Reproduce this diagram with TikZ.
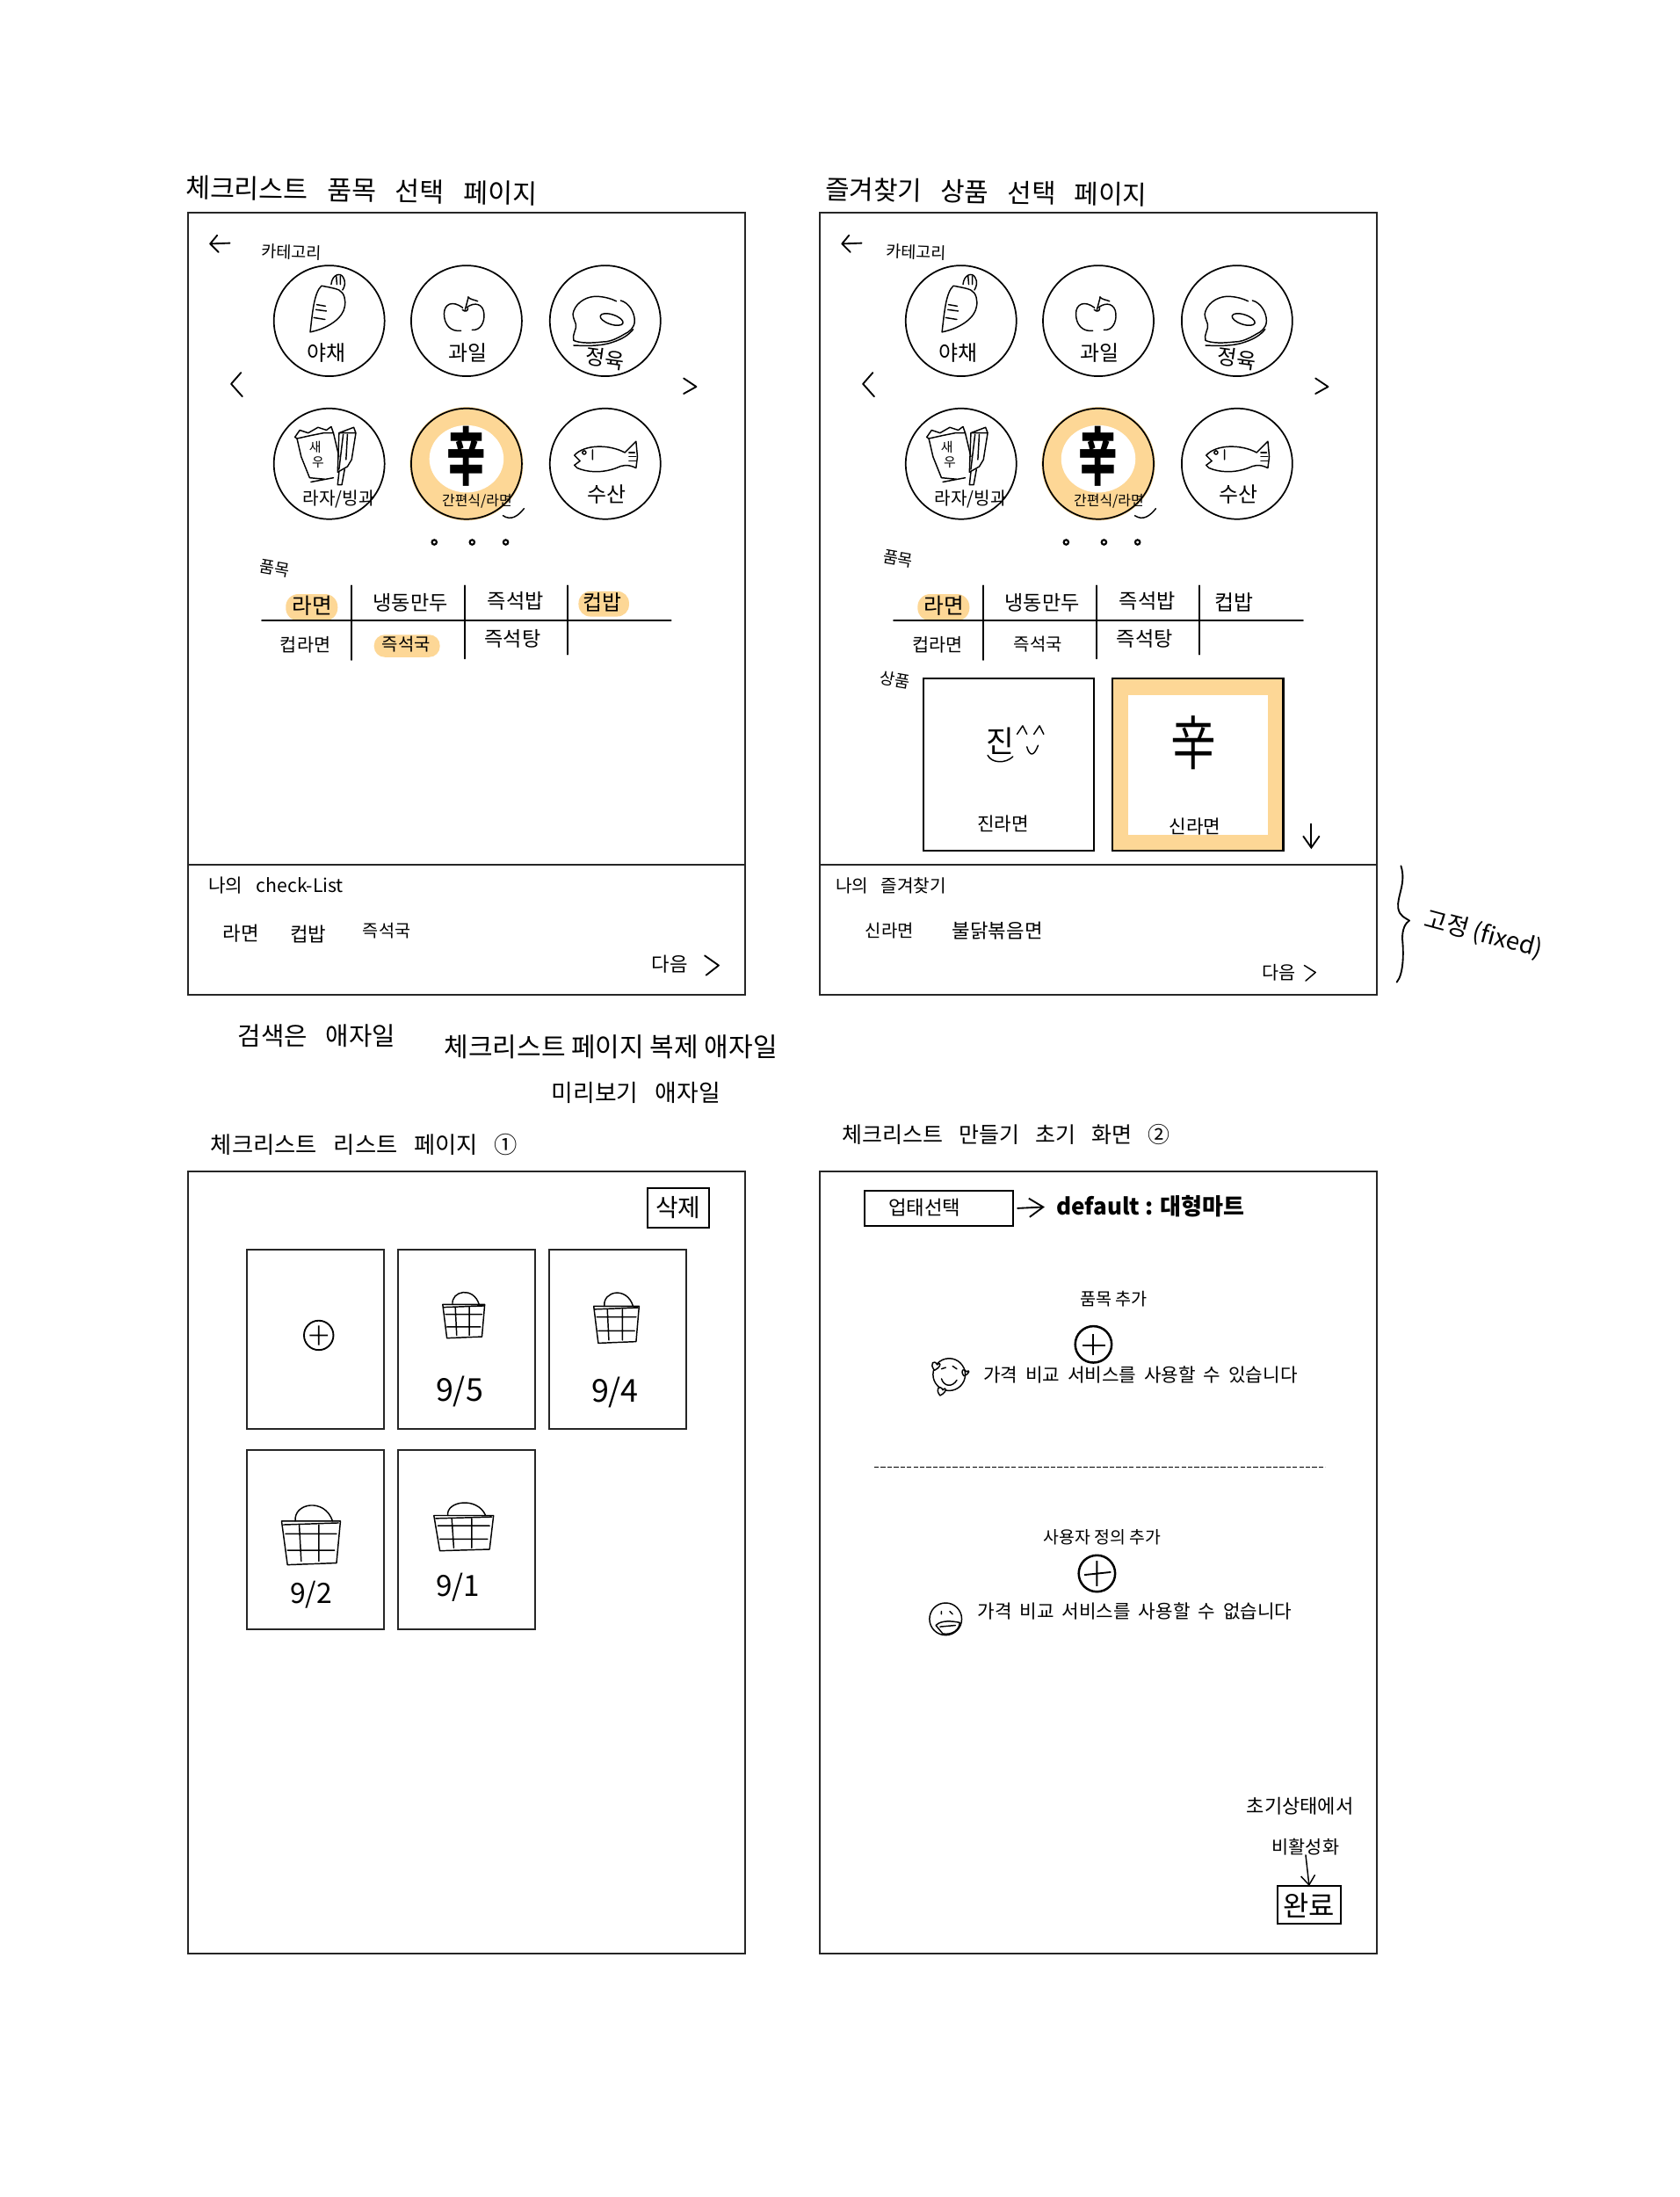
\documentclass[tikz,border=0pt]{standalone}
\usepackage{fontspec}
\setmainfont{Noto Sans CJK KR}
\newfontfamily\kr{Noto Sans CJK KR}
\usetikzlibrary{arrows.meta}
\definecolor{hl}{HTML}{FDD796}
\newcommand{\wsp}{\hspace{0.72em}}
\newcommand{\wsm}{\hspace{0.42em}}
\tikzset{
  every node/.append style={outer sep=0pt},
  fs/.style={font=\kr\fontsize{#1pt}{#1pt}\selectfont},
  lb/.style={inner sep=0pt,text=black},
  frameline/.style={line width=0.75pt,draw=black!85},
  sketch/.style={line width=0.55pt,line cap=round,line join=round},
  thickline/.style={line width=0.75pt,line cap=round},
  card/.style={draw=black!85,line width=0.7pt,minimum width=58.8pt,minimum height=76.8pt,anchor=north west,inner sep=0pt},
  catc/.style={line width=0.65pt,draw=black},
  carrot/.pic={
    \draw[sketch] (-13.6,8) .. controls (-12,-5) and (-11,-20) .. (-5.5,-25) .. controls (0,-24) and (5,-23) .. (7,-22) .. controls (11,-20) and (12,-14) .. (11,-10) .. controls (10,-3) and (1,5) .. (-13.6,8) -- cycle;
    \draw[sketch] (1.4,-26) .. controls (2,-33) and (8,-35) .. (10,-31) .. controls (12,-28) and (11,-24) .. (9.5,-22);
    \draw[sketch] (5,-32) -- (5.5,-26) (8,-32) -- (8,-26);
    \draw[sketch] (-9,-11.6) -- (-2.7,-10.5) (-9.5,-8) -- (-2,-7) (-11,-2.3) -- (-3,-1);
  },
  apple/.pic={
    \draw[sketch] (-2.7,-9.3) .. controls (-10,-15) and (-16,-12) .. (-16,-5) .. controls (-16,3) and (-11,8) .. (-4,7);
    \draw[sketch] (0,-9.5) .. controls (6,-14) and (12,-12) .. (12.5,-5) .. controls (13,1) and (10,7) .. (4,6.5);
    \draw[sketch] (-3,-8) .. controls (-1,-6) and (1,-7) .. (1,-9) (-1,-8) -- (1.4,-17);
    \draw[sketch] (1,-17) .. controls (3,-15) and (6,-15) .. (8,-14);
  },
  meat/.pic={
    \draw[sketch] (-22.5,-7) .. controls (-20,-14) and (-12,-18) .. (-5,-17.4) .. controls (0,-17) and (4,-16) .. (8,-14) (11,-14.5) .. controls (17,-13) and (21,-6) .. (21,0) .. controls (21,5) and (17,8) .. (14,9.3) .. controls (8,13) and (3,15) .. (-2,15) .. controls (-10,16) and (-18,16) .. (-22.5,14) .. controls (-24,10) and (-20,6) .. (-21,2.3) .. controls (-22,-1) and (-24,-4) .. (-22.5,-7);
    \draw[sketch] (-22.5,17.5) .. controls (-12,18) and (-2,18) .. (6,15) .. controls (12,13) and (17,10) .. (20,6);
    \draw[sketch,rotate around={-18:(4.6,-1)}] (4.6,-1) ellipse (8.5 and 3.5);
  },
  snack/.pic={
    \draw[sketch] (-24.5,-19) -- (-21,-24) -- (-15,-22) -- (-8,-26) -- (-2,-24) -- (1.4,-26.5) -- (3,-22) -- (-4,-22) -- (-14,-20) -- (-23,-18) -- cycle;
    \draw[sketch] (-23,-18) -- (-20,-5) -- (-14,10) -- (-3,11) (-13,13) -- (3,10) (3,-22) -- (7,-5);
    \node[lb,fs=5.6] (sae) at (-10,-12) {새};
    \node[lb,fs=5.6] (woo) at (-8,-1) {우};
    \draw[sketch] (7,-22) -- (17.5,-26) -- (19,-22) -- (16,-3) -- (13,2) -- (6,6) -- cycle (7,-22) -- (19,-22);
    \draw[sketch] (10,-21) -- (7,4) (13,-21) -- (12,-3);
    \draw[sketch] (7,6) -- (6,15) -- (9,15) -- (11,4);
  },
  fish/.pic={
    \draw[sketch] (-22,-6) .. controls (-15,-14) and (3,-14) .. (14,-8) -- (22,-16) -- (23,-5) -- (22,3) .. controls (16,0) and (12,1) .. (8,3) .. controls (-3,7) and (-13,6) .. (-20,3) -- (-22,1) -- (-18,-2) -- (-22,-6) -- cycle;
    \draw[sketch] (-15,-8) circle (1.3) (-9,-10) -- (-9,-3);
    \draw[sketch] (17,-8) -- (21,-8) (17,-5) -- (22,-5) (17,-2) -- (22,-2);
  },
  basket/.pic={
    \draw[sketch] (-15,-8) -- (15,-8) (-14,-6) -- (14,-7) (-15,-8) -- (-12,16) -- (13,15) -- (15,-8);
    \draw[sketch] (-8,-8) .. controls (-9,-18) and (7,-21) .. (11,-8);
    \draw[sketch] (-13,-1) -- (13,-1) (-12,8) -- (12,8) (-6,-6) -- (-5,14) (4,-6) -- (4,14);
  },
  cats/.pic={
    \fill[hl] (98,102) ellipse (40.5 and 40.5);
    \fill[white] (98,98.5) ellipse (26.5 and 24);
    \foreach \n/\cx/\cy in {a/0/0,b/98/0,c/197/0,d/0/102,e/98/102,f/197/102}
      \draw[catc] (\cx,\cy) circle (39.5);
    \pic at (0,0) {carrot};
    \pic at (98,0) {apple};
    \pic at (197,0) {meat};
    \pic at (0,102) {snack};
    \pic at (197,102) {fish};
    \node[lb,fs=9] (yc) at (-2,23) {야채};
    \node[lb,fs=9] (gw) at (99,23) {과일};
    \node[lb,fs=9,rotate=-8] (jy) at (197,27) {정육};
    \node[lb,fs=7.6] (rj) at (7,127) {라자/빙과};
    \node[lb,fs=6] (gp) at (105.5,129) {간편식/라면};
    \node[lb,fs=9] (ss) at (198,124) {수산};
    \node[lb,font=\kr\bfseries\fontsize{27pt}{27pt}\selectfont] (sin) at (98,97) {\scalebox{0.62}[1]{辛}};
    \draw[sketch] (124,139) .. controls (130,143) and (135,139) .. (139,134);
    \draw[sketch,line width=0.7pt] (-63,37) -- (-70,45) -- (-62,54);
    \draw[sketch,line width=0.7pt] (253,41) -- (262,47) -- (253,52);
    \foreach \dx in {75,102,126} \draw[line width=0.8pt] (\dx,158) circle (1.7);
  },
  tbl/.pic={
    \draw[thickline] (-48,214) -- (244,214);
    \draw[thickline] (16,189) -- (16,242) (97,189) -- (97,241) (170,189) -- (170,238);
    \node[lb,fs=9.3] (c1) at (-12,203) {라면};
    \node[lb,fs=8.7] (c2) at (58,201) {냉동만두};
    \node[lb,fs=8.7] (c3) at (133,200) {즉석밥};
    \node[lb,fs=9] (c4) at (195,201) {컵밥};
    \node[lb,fs=7.8] (c5) at (-17,231) {컵라면};
    \node[lb,fs=7.5] (c6) at (55,231) {즉석국};
    \node[lb,fs=8.7] (c7) at (131,227) {즉석탕};
  }
}
\begin{document}
\begin{tikzpicture}[x=0.6pt,y=-0.6pt]
\useasboundingbox (0,0) rectangle (1199,1568);
\fill[white] (0,0) rectangle (1199,1568);

% ---------- titles
\node[lb,fs=11.4,rotate=-1] (t1) at (258,136) {체크리스트\wsp 품목\wsp 선택\wsp 페이지};
\node[lb,fs=11.2,rotate=-1] (t2) at (704,137) {즐겨찾기\wsp 상품\wsp 선택\wsp 페이지};
\node[lb,fs=9.9] (t3) at (260,817) {체크리스트\wsp 리스트\wsp 페이지\wsp ①};
\node[lb,fs=9.4] (t4) at (718,810) {체크리스트\wsp 만들기\wsp 초기\wsp 화면\wsp ②};
\node[lb,fs=10.8] (n1) at (226,739) {검색은\wsp 애자일};
\node[lb,fs=11.3] (n2) at (436,747) {체크리스트 페이지 복제 애자일};
\node[lb,fs=10.1] (n3) at (454,780) {미리보기\wsp 애자일};

% ---------- frames
\draw[frameline] (134,152) rectangle (532,710) (134,617) -- (532,617);
\draw[frameline] (585,152) rectangle (983,710) (585,617) -- (983,617);
\draw[frameline] (134,836) rectangle (532,1394);
\draw[frameline] (585,836) rectangle (983,1394);

% ---------- highlights
\fill[hl,rounded corners=5.4pt] (204,424) rectangle (241,443);
\fill[hl,rounded corners=5pt] (413,422) rectangle (449,440);
\fill[hl,rounded corners=4.6pt] (267,453) rectangle (314,469);
\fill[hl,rounded corners=5.4pt] (655,424) rectangle (692,443);

% ---------- top left page
\draw[sketch,line width=0.7pt] (164,173.5) -- (150,174) (155,168) -- (150,174) -- (156,180);
\node[lb,fs=7,rotate=-2] (k1) at (208,180) {카테고리};
\pic (pa) at (235,229) {cats};
\pic (pa) at (235,229) {tbl};
\node[lb,fs=7,rotate=-10] (p1) at (196,406) {품목};
\node[lb,fs=8] (m1) at (197,632) {나의\wsp check-List};
\node[lb,fs=8.4] (a1) at (172,666) {라면};
\node[lb,fs=8.4] (a2) at (220,667) {컵밥};
\node[lb,fs=7.4] (a3) at (276,664) {즉석국};
\node[lb,fs=8.4] (nx1) at (478,688) {다음};
\draw[sketch,line width=0.7pt] (503,682) -- (513,689) -- (504,696);

% ---------- top right page
\draw[sketch,line width=0.7pt] (615,173.5) -- (601,174) (606,168) -- (601,174) -- (607,180);
\node[lb,fs=7,rotate=-2] (k2) at (654,180) {카테고리};
\pic (pb) at (686,229) {cats};
\pic (pb) at (686,229) {tbl};
\node[lb,fs=7,rotate=-10] (p2) at (641,399) {품목};
\node[lb,fs=7,rotate=-10] (p3) at (639,485) {상품};
\node[card,draw=black,minimum width=73.2pt,minimum height=73.8pt,line width=0.8pt] (bx1) at (659,484) {};
\node[card,draw=black,fill=hl,minimum width=73.2pt,minimum height=73.8pt,line width=0.8pt] (bx2) at (794,484) {};
\fill[white] (805,496) rectangle (905,596);
\node[lb,fs=13] (jin) at (714,529) {진};
\draw[sketch] (726,524) -- (730,518) -- (733,524) (738,524) -- (742,518) -- (745,524) (733,533) .. controls (735,540) and (738,540) .. (741,532) (705,539) .. controls (708,545) and (718,545) .. (723,540);
\node[lb,fs=25] (sin2) at (852,530) {\scalebox{0.78}[1]{辛}};
\node[lb,fs=8] (j2) at (716,588) {진라면};
\node[lb,fs=8] (s2) at (853,590) {신라면};
\coordinate (dn1) at (936,588);
\coordinate (dn2) at (936,606);
\draw[sketch,line width=0.7pt,-{Straight Barb[length=5pt,width=7pt]}] (dn1) -- (dn2);
\node[lb,fs=7.6] (m2) at (636,632) {나의\wsp 즐겨찾기};
\node[lb,fs=7.5] (b1) at (635,664) {신라면};
\node[lb,fs=8.4] (b2) at (712,664) {불닭볶음면};
\node[lb,fs=7.8] (nx2) at (913,694) {다음};
\draw[sketch] (931,689) -- (939,694) -- (932,700);
\draw[sketch,line width=0.7pt] (1000,618) .. controls (1004,630) and (997,640) .. (998,648) .. controls (999,654) and (1003,655) .. (1006,657) .. controls (1003,659) and (1001,663) .. (1001,670) .. controls (1002,680) and (1002,695) .. (997,701);
\node[lb,fs=10.4,rotate=-15] (fx) at (1059,667) {고정 (fixed)};

% ---------- bottom left page
\node[draw=black,line width=0.7pt,minimum width=26.4pt,minimum height=16.8pt,anchor=north west,inner sep=0pt] (del) at (462,848) {};
\node[lb,fs=10.5] (delt) at (484,862) {삭제};
\node[card] (k11) at (176,892) {};
\node[card] (k12) at (284,892) {};
\node[card] (k13) at (392,892) {};
\node[card] (k14) at (176,1035) {};
\node[card] (k15) at (284,1035) {};
\draw[line width=0.7pt] (227.5,953) circle (10.5) (221,953) -- (234,953) (227.5,946) -- (227.5,960);
\pic at (331,939) {basket};
\pic[xscale=1.08,yscale=1.1] at (440,941) {basket};
\pic[xscale=1.4,yscale=1.3] at (222,1096) {basket};
\pic[xscale=1.42,yscale=1.05] at (331,1090) {basket};
\node[lb,fs=13.5] (d1) at (328,993) {9/5};
\node[lb,fs=13.5] (d2) at (439,994) {9/4};
\node[lb,fs=12] (d3) at (222,1138) {9/2};
\node[lb,fs=12.5] (d4) at (327,1133) {9/1};

% ---------- bottom right page
\node[draw=black,line width=0.8pt,minimum width=63.6pt,minimum height=15pt,anchor=north west,inner sep=0pt] (ty) at (617,850) {};
\node[lb,fs=8.4] (tyt) at (660,862) {업태선택};
\node[lb,anchor=west,font=\kr\bfseries\fontsize{9.8pt}{9.8pt}\selectfont] (df) at (754,861) {default : 대형마트};
\draw[sketch,line width=0.7pt,-{Straight Barb[length=6pt,width=8pt]},shorten >=5pt,shorten <=2pt] (ty.east) -- (df.west);
\node[lb,fs=7.4] (q1) at (795,927) {품목 추가};
\draw[line width=0.95pt] (780.5,959.5) circle (13);
\draw[line width=0.7pt] (773,960) -- (789,960) (780,952) -- (780,967);
\draw[sketch] (677.5,981) circle (11.5);
\draw[sketch] (672,977) -- (675,976) (680,975) -- (683,977) (672,984) .. controls (674,990) and (680,990) .. (683,985);
\draw[sketch,fill=white] (667,978) .. controls (663,973) and (667,970) .. (669,974) .. controls (671,971) and (673,975) .. (667,978) -- cycle;
\draw[sketch,fill=white] (671,996) .. controls (667,991) and (671,988) .. (673,992) .. controls (675,989) and (677,993) .. (671,996) -- cycle;
\draw[sketch] (688,982) .. controls (685,978) and (688,976) .. (690,979) .. controls (692,977) and (693,980) .. (688,982);
\node[lb,fs=8] (pr1) at (814,981) {가격\wsm 비교\wsm 서비스를\wsm 사용할\wsm 수\wsm 있습니다};
\coordinate (da) at (624,1047);
\coordinate (db) at (946,1047);
\draw[line width=0.5pt,dash pattern=on 2pt off 0.8pt] (da) -- (db);
\node[lb,fs=7.3] (q2) at (787,1097) {사용자 정의 추가};
\draw[line width=0.95pt] (783,1123) circle (13);
\draw[line width=0.7pt] (774,1124) -- (793,1122) (783,1114) -- (783,1132);
\draw[sketch] (675,1155.5) circle (11.5);
\draw[sketch] (672,1150) -- (672,1152) (678,1150) -- (680,1152);
\draw[sketch] (668,1160) .. controls (672,1156) and (680,1157) .. (685,1158) .. controls (685,1163) and (680,1167) .. (673,1166) -- (668,1160) (671,1161) -- (682,1160);
\node[lb,fs=8] (pr2) at (810,1150) {가격\wsm 비교\wsm 서비스를\wsm 사용할\wsm 수\wsm 없습니다};
\node[lb,fs=8.3] (in1) at (928,1289) {초기상태에서};
\node[lb,fs=7.8] (in2) at (932,1318) {비활성화};
\node[draw=black,line width=0.8pt,minimum width=27pt,minimum height=16.2pt,anchor=north west,inner sep=0pt] (ok) at (912,1346) {};
\node[lb,fs=12] (okt) at (934.5,1360) {완료};
\draw[sketch,-{Straight Barb[length=4pt,width=6pt]}] (in2.south) -- (ok.north);
\end{tikzpicture}
\end{document}
